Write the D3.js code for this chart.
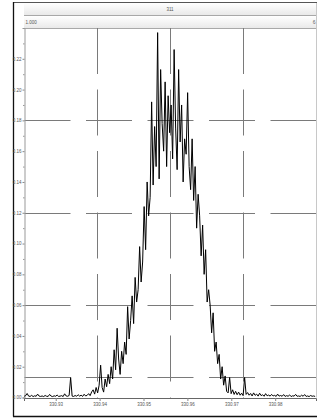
<!DOCTYPE html>
<html><head><meta charset="utf-8">
<script src="https://cdn.jsdelivr.net/npm/d3@7"></script>
<style>html,body{margin:0;padding:0;background:#fff;}svg{display:block;font-family:"Liberation Sans",Arial,sans-serif;}</style>
</head><body>
<script>
// ---- data ----
const titleText = "311";
const subLeftText = "1.000";
const xFirst = 330.9228, xLast = 330.9891;
const xDomain = [330.92277, 330.9893];
const yDomain = [0, 0.24];
const xTickValues = [330.93, 330.94, 330.95, 330.96, 330.97, 330.98];
const xTickLabels = ["330.93","330.94","330.95","330.96","330.97","330.98"];
const yTickValues = [0,0.02,0.04,0.06,0.08,0.10,0.12,0.14,0.16,0.18,0.20,0.22];
const yTickLabels = ["0.00","0.02","0.04","0.06","0.08","0.10","0.12","0.14","0.16","0.18","0.20","0.22"];
const yMinorTicks = [0.01,0.03,0.05,0.07,0.09,0.11,0.13,0.15,0.17,0.19,0.21,0.23];
const hGridValues = [0.06, 0.12, 0.18];
const thresholdValue = 0.013;
// intensity in units of 1e-3
const intensity = [
 0.8,1.2,2.6,0.9,0.7,1.4,0.6,1.1,0.8,2.2,0.9,0.7,1.0,0.6,1.3,0.8,0.7,2.0,0.9,0.6,1.1,0.8,1.6,0.7,0.9,1.2,0.6,2.4,1.0,0.8,1.3,
 13.0,
 0.9,0.7,1.3,0.8,1.8,0.9,1.5,0.7,2.1,1.0,
 1.4,2.5,1.2,3.6,5.0,2.2,6.5,3.0,8.0,21,6.5,3.5,12,7,15,9,20,12,31,18,45,25,15,30,22,36,28,
 59,38,50,66,48,78,62,70,98,75,88,124,96,140,118,130,
 192,138,176,150,237,142,213,178,160,205,150,196,172,190,155,226,175,148,213,166,190,140,168,158,198,150,135,168,128,150,110,132,118,92,112,80,96,62,70,60,42,55,30,36,22,28,12,20,8,14,4,
 3,13,2.5,5,2,4,1.8,3.5,1.5,2.8,1.2,13,2.0,
 3.2,1.5,2.6,1.0,3.0,1.4,2.2,0.9,2.8,1.2,1.8,0.8,2.5,1.1,1.6,0.9,2.0,1.0,1.4,0.7,2.2,0.9,1.3,0.8,1.9,0.7,1.2,0.8,1.7,0.6,1.1,0.9,2.0,0.8,1.0,0.7,1.5,0.8,1.9,0.7,1.0,0.6,1.3,0.8,1.0,0.7
];

// ---- layout ----
const W = 320, H = 419;
const L = 24, R = 316, T = 28, B = 397.5;

const svg = d3.select("body").append("svg").attr("width", W).attr("height", H);

const defs = svg.append("defs");
const grad = defs.append("linearGradient").attr("id","hdr").attr("x1",0).attr("y1",0).attr("x2",0).attr("y2",1);
grad.append("stop").attr("offset","0%").attr("stop-color","#ffffff");
grad.append("stop").attr("offset","100%").attr("stop-color","#e9e9e9");

const x = d3.scaleLinear().domain(xDomain).range([L, R]);
const y = d3.scaleLinear().domain(yDomain).range([B, T]);
const idx = d3.scaleLinear().domain([0, intensity.length - 1]).range([xFirst, xLast]);

// header bars
svg.append("rect").attr("x", L).attr("y", 3).attr("width", R - L + 1).attr("height", 12).attr("fill", "url(#hdr)");
svg.append("rect").attr("x", L).attr("y", 16).attr("width", R - L + 1).attr("height", 12).attr("fill", "url(#hdr)");
svg.append("line").attr("x1", L).attr("x2", R + 1).attr("y1", 15.5).attr("y2", 15.5).attr("stroke", "#a8a8a8");
svg.append("line").attr("x1", L).attr("x2", R + 1).attr("y1", 28.5).attr("y2", 28.5).attr("stroke", "#a8a8a8");
svg.append("text").attr("x", (L + R) / 2).attr("y", 11).attr("text-anchor", "middle")
  .attr("font-size", 4.5).attr("fill", "#555").text(titleText);
svg.append("text").attr("x", L + 1.5).attr("y", 24).attr("font-size", 4.5).attr("fill", "#555").text(subLeftText);
svg.append("text").attr("x", R - 0.5).attr("y", 24).attr("text-anchor", "end").attr("font-size", 5).attr("fill", "#666").text("6");

// outer frame
svg.append("line").attr("x1", 13).attr("x2", R + 1).attr("y1", 2.5).attr("y2", 2.5).attr("stroke", "#555").attr("stroke-width", 1.2);
svg.append("line").attr("x1", 13.5).attr("x2", 13.5).attr("y1", 2).attr("y2", 416.5).attr("stroke", "#111").attr("stroke-width", 1.3);
svg.append("line").attr("x1", 13).attr("x2", R + 1).attr("y1", 416.5).attr("y2", 416.5).attr("stroke", "#111").attr("stroke-width", 1.3);
svg.append("line").attr("x1", R + 0.5).attr("x2", R + 0.5).attr("y1", 3).attr("y2", B).attr("stroke", "#c8c8c8");

// grid
const dash = "46,15.5";
const gridG = svg.append("g").attr("stroke", "#7a7a7a").attr("stroke-width", 1).attr("stroke-dasharray", dash);
hGridValues.concat([thresholdValue]).forEach(v => {
  gridG.append("line").attr("x1", L + 0.5).attr("x2", R).attr("y1", Math.round(y(v)) + 0.5).attr("y2", Math.round(y(v)) + 0.5);
});
[0.25, 0.5, 0.75].forEach(f => {
  const xv = xDomain[0] + f * (xDomain[1] - xDomain[0]);
  gridG.append("line").attr("x1", Math.round(x(xv)) + 0.5).attr("x2", Math.round(x(xv)) + 0.5).attr("y1", T).attr("y2", B);
});

// y axis
const yAxis = d3.axisLeft(y).tickValues(yTickValues).tickSize(2).tickPadding(1)
  .tickFormat((d, i) => yTickLabels[i]);
const yg = svg.append("g").attr("transform", `translate(${L + 0.5},0)`).call(yAxis);
yg.select(".domain").attr("stroke", "#999");
yg.selectAll(".tick line").attr("stroke", "#888");
yg.selectAll("text").attr("font-size", 4.5).attr("fill", "#555").attr("font-family", "Liberation Sans, Arial, sans-serif");
const yMinor = d3.axisLeft(y).tickValues(yMinorTicks).tickSize(1.5).tickFormat("");
const ym = svg.append("g").attr("transform", `translate(${L + 0.5},0)`).call(yMinor);
ym.select(".domain").remove();
ym.selectAll(".tick line").attr("stroke", "#999");

// x axis
const xAxis = d3.axisBottom(x).tickValues(xTickValues).tickSize(3).tickPadding(2)
  .tickFormat((d, i) => xTickLabels[i]);
const xg = svg.append("g").attr("transform", `translate(0,${B + 0.5})`).call(xAxis);
xg.select(".domain").attr("stroke", "#666");
xg.selectAll(".tick line").attr("stroke", "#888");
xg.selectAll("text").attr("font-size", 4.5).attr("fill", "#555").attr("font-family", "Liberation Sans, Arial, sans-serif");

// data line
const line = d3.line().x((d, i) => x(idx(i))).y(d => y(d / 1000));
svg.append("path").datum(intensity).attr("d", line).attr("fill", "none")
  .attr("stroke", "#000").attr("stroke-width", 1).attr("stroke-linejoin", "miter");
</script>
</body></html>
